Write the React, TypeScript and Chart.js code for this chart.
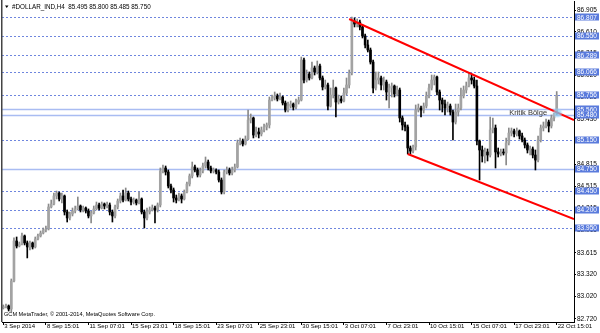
import React, { useEffect, useRef } from "react";
import { Chart, registerables } from "chart.js";
Chart.register(...registerables);

// ---- data (H4 candles, #DOLLAR_IND) ----
const opens = [
  82.867, 82.880, 82.894, 82.853, 83.233, 83.775, 83.707, 83.734, 83.843, 83.748,
  83.694, 83.748, 83.694, 83.802, 83.843, 83.883, 83.924, 83.938, 84.236, 84.276,
  84.385, 84.425, 84.344, 84.385, 84.168, 84.087, 84.141, 84.181, 84.209, 84.249,
  84.195, 84.222, 84.181, 84.114, 84.154, 84.209, 84.263, 84.222, 84.276, 84.249,
  84.263, 84.168, 84.114, 84.236, 84.317, 84.385, 84.330, 84.425, 84.344, 84.303,
  84.330, 84.290, 84.344, 84.168, 84.087, 84.168, 84.195, 84.222, 84.195, 84.263,
  84.724, 84.764, 84.710, 84.520, 84.466, 84.358, 84.330, 84.385, 84.344, 84.439,
  84.547, 84.656, 84.778, 84.737, 84.669, 84.724, 84.791, 84.845, 84.764, 84.724,
  84.737, 84.710, 84.601, 84.439, 84.710, 84.737, 84.696, 84.737, 84.778, 85.103,
  85.130, 85.089, 85.157, 85.414, 85.442, 85.211, 85.252, 85.225, 85.279, 85.320,
  85.347, 85.685, 85.713, 85.740, 85.699, 85.726, 85.645, 85.550, 85.604, 85.631,
  85.591, 85.658, 85.685, 86.227, 85.956, 86.038, 85.984, 86.119, 86.065, 86.146,
  85.984, 85.862, 85.889, 85.604, 85.753, 85.848, 85.658, 85.699, 85.672, 85.780,
  85.889, 86.051, 86.756, 86.715, 86.742, 86.675, 86.553, 86.431, 86.363, 86.200,
  85.848, 85.956, 85.984, 85.889, 85.929, 85.794, 85.848, 85.875, 85.767, 85.821,
  85.442, 85.347, 85.320, 85.035, 84.994, 85.049, 85.550, 85.577, 85.550, 85.604,
  85.740, 85.848, 85.956, 85.997, 85.794, 85.685, 85.631, 85.577, 85.604, 85.523,
  85.387, 85.523, 85.577, 85.740, 85.821, 85.875, 85.984, 85.956, 85.875, 85.130,
  85.008, 84.927, 84.981, 84.940, 85.279, 85.306, 84.981, 84.954, 84.981, 84.967,
  85.103, 85.238, 85.266, 85.225, 85.266, 85.198, 85.143, 85.076, 85.008, 85.022,
  84.940, 84.872, 85.143, 85.306, 85.333, 85.387, 85.333, 85.442, 85.495,
];
const highs = [
  82.908, 82.921, 82.908, 83.260, 83.816, 83.829, 83.761, 83.883, 83.856, 83.775,
  83.775, 83.761, 83.829, 83.870, 83.910, 83.951, 83.978, 84.276, 84.330, 84.425,
  84.452, 84.439, 84.425, 84.398, 84.195, 84.168, 84.222, 84.249, 84.371, 84.263,
  84.249, 84.236, 84.209, 84.181, 84.249, 84.303, 84.290, 84.303, 84.290, 84.303,
  84.290, 84.195, 84.263, 84.344, 84.425, 84.466, 84.493, 84.452, 84.371, 84.358,
  84.344, 84.439, 84.358, 84.195, 84.222, 84.236, 84.263, 84.249, 84.290, 84.764,
  84.805, 84.791, 84.737, 84.547, 84.493, 84.398, 84.425, 84.412, 84.466, 84.574,
  84.683, 84.845, 84.805, 84.764, 84.764, 84.832, 84.913, 84.872, 84.791, 84.764,
  84.751, 84.737, 84.629, 84.737, 84.778, 84.764, 84.778, 84.818, 85.143, 85.171,
  85.157, 85.198, 85.550, 85.496, 85.455, 85.320, 85.306, 85.320, 85.360, 85.374,
  85.726, 85.753, 85.794, 85.767, 85.780, 85.740, 85.672, 85.658, 85.672, 85.645,
  85.699, 85.726, 86.268, 86.255, 86.092, 86.065, 86.200, 86.146, 86.214, 86.173,
  86.011, 85.956, 85.916, 85.848, 85.956, 85.862, 85.753, 85.740, 85.848, 85.984,
  86.092, 86.810, 86.797, 86.783, 86.770, 86.702, 86.580, 86.498, 86.390, 86.227,
  86.065, 86.065, 86.011, 85.997, 85.956, 85.902, 85.916, 85.889, 85.875, 85.848,
  85.469, 85.387, 85.347, 85.062, 85.076, 85.618, 85.631, 85.604, 85.645, 85.794,
  85.902, 86.024, 86.024, 86.011, 85.821, 85.713, 85.685, 85.658, 85.631, 85.550,
  85.631, 85.631, 85.848, 85.875, 85.929, 86.051, 86.024, 85.997, 85.956, 85.143,
  85.062, 85.035, 85.022, 85.455, 85.442, 85.347, 85.035, 85.022, 85.022, 85.171,
  85.306, 85.306, 85.293, 85.306, 85.279, 85.238, 85.171, 85.103, 85.062, 85.049,
  85.008, 85.198, 85.347, 85.387, 85.428, 85.414, 85.482, 85.509, 85.800,
];
const lows = [
  82.853, 82.867, 82.826, 82.813, 83.219, 83.680, 83.694, 83.721, 83.721, 83.545,
  83.653, 83.666, 83.680, 83.788, 83.829, 83.870, 83.897, 83.924, 84.222, 84.263,
  84.344, 84.317, 84.290, 84.127, 84.032, 84.059, 84.114, 84.154, 84.195, 84.168,
  84.168, 84.154, 84.087, 84.019, 84.141, 84.195, 84.195, 84.209, 84.209, 84.222,
  84.127, 84.032, 84.087, 84.209, 84.290, 84.303, 84.317, 84.317, 84.263, 84.276,
  84.263, 84.276, 84.141, 83.951, 84.059, 84.141, 84.181, 84.019, 84.168, 84.236,
  84.696, 84.669, 84.493, 84.425, 84.303, 84.290, 84.317, 84.290, 84.330, 84.425,
  84.520, 84.629, 84.710, 84.642, 84.642, 84.696, 84.764, 84.737, 84.696, 84.696,
  84.683, 84.574, 84.412, 84.412, 84.683, 84.669, 84.669, 84.710, 84.764, 85.076,
  85.062, 85.076, 85.143, 85.374, 85.171, 85.184, 85.171, 85.198, 85.252, 85.279,
  85.306, 85.672, 85.685, 85.672, 85.685, 85.618, 85.523, 85.523, 85.577, 85.550,
  85.564, 85.631, 85.672, 85.916, 85.929, 85.956, 85.970, 86.024, 86.038, 85.956,
  85.821, 85.835, 85.550, 85.591, 85.713, 85.455, 85.631, 85.645, 85.658, 85.753,
  85.848, 86.024, 86.675, 86.675, 86.634, 86.526, 86.390, 86.336, 86.173, 85.780,
  85.821, 85.902, 85.821, 85.821, 85.685, 85.577, 85.726, 85.726, 85.740, 85.387,
  85.279, 85.266, 84.954, 84.954, 84.967, 85.008, 85.523, 85.455, 85.509, 85.577,
  85.713, 85.821, 85.889, 85.753, 85.550, 85.523, 85.482, 85.523, 85.482, 85.143,
  85.360, 85.469, 85.550, 85.713, 85.780, 85.862, 85.902, 85.848, 85.076, 84.601,
  84.845, 84.832, 84.859, 84.913, 85.238, 84.764, 84.913, 84.927, 84.940, 84.805,
  85.076, 85.198, 85.184, 85.198, 85.157, 85.116, 85.035, 84.967, 84.940, 84.900,
  84.737, 84.845, 85.116, 85.266, 85.306, 85.252, 85.306, 85.401, 85.485,
];
const closes = [
  82.880, 82.894, 82.853, 83.233, 83.775, 83.707, 83.734, 83.843, 83.748, 83.694,
  83.748, 83.694, 83.802, 83.843, 83.883, 83.924, 83.938, 84.236, 84.276, 84.385,
  84.425, 84.344, 84.385, 84.168, 84.087, 84.141, 84.181, 84.209, 84.249, 84.195,
  84.222, 84.181, 84.114, 84.154, 84.209, 84.263, 84.222, 84.276, 84.249, 84.263,
  84.168, 84.114, 84.236, 84.317, 84.385, 84.330, 84.425, 84.344, 84.303, 84.330,
  84.290, 84.344, 84.168, 84.087, 84.168, 84.195, 84.222, 84.195, 84.263, 84.724,
  84.764, 84.710, 84.520, 84.466, 84.358, 84.330, 84.385, 84.344, 84.439, 84.547,
  84.656, 84.778, 84.737, 84.669, 84.724, 84.791, 84.845, 84.764, 84.724, 84.737,
  84.710, 84.601, 84.439, 84.710, 84.737, 84.696, 84.737, 84.778, 85.103, 85.130,
  85.089, 85.157, 85.414, 85.442, 85.211, 85.252, 85.225, 85.279, 85.320, 85.347,
  85.685, 85.713, 85.740, 85.699, 85.726, 85.645, 85.550, 85.604, 85.631, 85.591,
  85.658, 85.685, 86.227, 85.956, 86.038, 85.984, 86.119, 86.065, 86.146, 85.984,
  85.862, 85.889, 85.604, 85.753, 85.848, 85.658, 85.699, 85.672, 85.780, 85.889,
  86.051, 86.756, 86.715, 86.742, 86.675, 86.553, 86.431, 86.363, 86.200, 85.848,
  85.956, 85.984, 85.889, 85.929, 85.794, 85.848, 85.875, 85.767, 85.821, 85.442,
  85.347, 85.320, 85.035, 84.994, 85.049, 85.550, 85.577, 85.550, 85.604, 85.740,
  85.848, 85.956, 85.997, 85.794, 85.685, 85.631, 85.577, 85.604, 85.523, 85.387,
  85.523, 85.577, 85.740, 85.821, 85.875, 85.984, 85.956, 85.875, 85.130, 85.008,
  84.927, 84.981, 84.940, 85.279, 85.306, 84.981, 84.954, 84.981, 84.967, 85.103,
  85.238, 85.266, 85.225, 85.266, 85.198, 85.143, 85.076, 85.008, 85.022, 84.940,
  84.872, 85.143, 85.306, 85.333, 85.387, 85.333, 85.442, 85.495, 85.750,
];

const tickBars = [0, 16, 32, 48, 64, 80, 96, 112, 128, 144, 160, 176, 192, 208];
const tickLabels = [
  "3 Sep 2014", "8 Sep 15:01", "11 Sep 07:01", "15 Sep 23:01", "18 Sep 15:01",
  "23 Sep 07:01", "25 Sep 23:01", "30 Sep 15:01", "3 Oct 07:01", "7 Oct 23:01",
  "10 Oct 15:01", "15 Oct 07:01", "17 Oct 23:01", "22 Oct 15:01",
];
const priceTicks = [
  86.905, 86.61, 86.315, 86.02, 85.725, 85.43, 85.135, 84.815, 84.515, 84.215,
  83.915, 83.615, 83.32, 83.02, 82.72,
];
const dottedLevels = [86.807, 86.55, 86.289, 86.066, 85.756, 85.15, 84.45, 84.2, 83.95];
const solidLevels = [85.56, 85.48, 84.75];
const upperTrend = [[130, 86.783], [214.5, 85.414]];
const lowerTrend = [[152, 84.954], [214.5, 84.073]];
const headerText = "#DOLLAR_IND,H4  85.495 85.800 85.485 85.750";
const footerText = "GCM MetaTrader, \u00a9 2001-2014, MetaQuotes Software Corp.";
const zoneLabel = "Kritik Bölge";
const zoneAnchor = [204.4, 85.51];
const glowAnchor = [208.3, 85.51];
const slotCount = 215;
const yMin = 82.677;
const yMax = 87.027;

const FONT = "'Liberation Sans', Arial, sans-serif";
const BULL = "#a3a3a3";
const BULL_WICK = "#8a8a8a";
const BEAR = "#000000";

const overlay = {
  id: "overlay",
  beforeDatasetsDraw(chart: any) {
    const { ctx, chartArea: a, scales } = chart;
    const ys = scales.y;
    ctx.save();
    ctx.beginPath();
    ctx.rect(a.left, a.top, a.right - a.left, a.bottom - a.top);
    ctx.clip();
    ctx.lineWidth = 1;
    ctx.strokeStyle = "#a9bcf2";
    ctx.lineWidth = 1.5;
    for (const v of solidLevels) {
      const y = Math.round(ys.getPixelForValue(v)) + 0.5;
      ctx.beginPath();
      ctx.moveTo(a.left, y);
      ctx.lineTo(a.right, y);
      ctx.stroke();
    }
    ctx.lineWidth = 1;
    ctx.strokeStyle = "#6f86de";
    ctx.setLineDash([2, 2]);
    for (const v of dottedLevels) {
      const y = Math.round(ys.getPixelForValue(v)) + 0.5;
      ctx.beginPath();
      ctx.moveTo(a.left, y);
      ctx.lineTo(a.right, y);
      ctx.stroke();
    }
    ctx.restore();
  },
  afterDatasetsDraw(chart: any) {
    const { ctx, chartArea: a, scales } = chart;
    const xs = scales.x;
    const ys = scales.y;
    ctx.save();
    ctx.beginPath();
    ctx.rect(a.left, a.top, a.right - a.left, a.bottom - a.top);
    ctx.clip();
    ctx.strokeStyle = "#ff0000";
    ctx.lineWidth = 2;
    for (const line of [upperTrend, lowerTrend]) {
      ctx.beginPath();
      ctx.moveTo(xs.getPixelForValue(line[0][0]), ys.getPixelForValue(line[0][1]));
      ctx.lineTo(xs.getPixelForValue(line[1][0]), ys.getPixelForValue(line[1][1]));
      ctx.stroke();
    }
    // glow
    const gx = xs.getPixelForValue(glowAnchor[0]);
    const gy = ys.getPixelForValue(glowAnchor[1]);
    const g = ctx.createRadialGradient(gx, gy, 0, gx, gy, 5.5);
    g.addColorStop(0, "rgba(110,190,235,0.85)");
    g.addColorStop(0.6, "rgba(150,210,245,0.6)");
    g.addColorStop(1, "rgba(180,225,250,0)");
    ctx.fillStyle = g;
    ctx.beginPath();
    ctx.arc(gx, gy, 5.5, 0, Math.PI * 2);
    ctx.fill();
    // zone label
    ctx.fillStyle = "#333333";
    ctx.font = `7.5px ${FONT}`;
    ctx.textAlign = "right";
    ctx.textBaseline = "middle";
    ctx.fillText(zoneLabel, xs.getPixelForValue(zoneAnchor[0]), ys.getPixelForValue(zoneAnchor[1]));
    ctx.restore();
  },
  afterDraw(chart: any) {
    const { ctx, chartArea: a, scales } = chart;
    const ys = scales.y;
    ctx.save();
    // left border
    ctx.strokeStyle = "#444444";
    ctx.lineWidth = 1.5;
    ctx.beginPath();
    ctx.moveTo(a.left - 0.25, 0);
    ctx.lineTo(a.left - 0.25, a.bottom);
    ctx.stroke();
    // level boxes on price axis
    ctx.font = `6.5px ${FONT}`;
    ctx.textAlign = "left";
    ctx.textBaseline = "middle";
    for (const v of [...dottedLevels, ...solidLevels]) {
      const y = ys.getPixelForValue(v);
      ctx.fillStyle = "#5a7bdc";
      ctx.fillRect(a.right + 1, Math.round(y) - 3.5, 24, 7);
      ctx.fillStyle = "#ffffff";
      ctx.fillText(v.toFixed(3), a.right + 3, y + 0.5);
    }
    // header
    ctx.fillStyle = "#000000";
    ctx.beginPath();
    ctx.moveTo(5, 5.5);
    ctx.lineTo(8.5, 5.5);
    ctx.lineTo(6.75, 8);
    ctx.closePath();
    ctx.fill();
    ctx.font = `6.3px ${FONT}`;
    ctx.fillText(headerText, 12, 6.8);
    // footer
    ctx.font = `5.6px ${FONT}`;
    ctx.fillText(footerText, 4, 314.5);
    ctx.restore();
  },
};

export default function App() {
  const ref = useRef<HTMLCanvasElement | null>(null);
  useEffect(() => {
    if (!ref.current) return;
    const labels = Array.from({ length: slotCount }, (_, i) => String(i));
    const bull = closes.map((c, i) => c >= opens[i]);
    const chart = new Chart(ref.current, {
      type: "bar",
      data: {
        labels,
        datasets: [
          {
            data: lows.map((l, i) => [l, highs[i]]) as any,
            backgroundColor: bull.map((b) => (b ? BULL_WICK : BEAR)),
            barThickness: 1,
            grouped: false,
            order: 1,
            borderWidth: 0,
          } as any,
          {
            data: opens.map((o, i) => [o, closes[i]]) as any,
            backgroundColor: bull.map((b) => (b ? BULL : BEAR)),
            barThickness: 2,
            minBarLength: 1,
            grouped: false,
            order: 0,
            borderWidth: 0,
          } as any,
        ],
      },
      options: {
        animation: false,
        responsive: false,
        devicePixelRatio: 1,
        layout: { padding: { left: 2, top: 1, right: 0, bottom: 0 } },
        plugins: { legend: { display: false }, tooltip: { enabled: false } },
        scales: {
          x: {
            type: "category",
            offset: true,
            grid: {
              display: true,
              drawOnChartArea: false,
              drawTicks: true,
              tickLength: 3,
              color: "#000",
              offset: false,
            },
            border: { display: true, color: "#000", width: 1 },
            ticks: {
              autoSkip: false,
              maxRotation: 0,
              minRotation: 0,
              align: "start",
              padding: -2,
              labelOffset: 1,
              color: "#000",
              font: { family: FONT, size: 6 },
              callback: (_v: any, i: number) => {
                const k = tickBars.indexOf(i);
                return k >= 0 ? tickLabels[k] : null;
              },
            },
            afterFit: (s: any) => {
              s.height = 11;
              s.paddingLeft = 0;
              s.paddingRight = 0;
            },
          } as any,
          y: {
            type: "linear",
            position: "right",
            min: yMin,
            max: yMax,
            afterBuildTicks: (s: any) => {
              s.ticks = priceTicks.map((v) => ({ value: v }));
            },
            grid: {
              display: true,
              drawOnChartArea: false,
              drawTicks: true,
              tickLength: 2,
              color: "#000",
            },
            border: { display: true, color: "#000", width: 1 },
            ticks: {
              autoSkip: false,
              padding: 1,
              color: "#000",
              font: { family: FONT, size: 6.5 },
              callback: (v: any) => Number(v).toFixed(3),
            },
            afterFit: (s: any) => {
              s.width = 26;
              s.paddingTop = 0;
              s.paddingBottom = 0;
            },
          } as any,
        },
      },
      plugins: [overlay],
    });
    return () => chart.destroy();
  }, []);
  return (
    <div style={{ position: "fixed", left: 0, top: 0, width: 600, height: 333, background: "#fff" }}>
      <canvas ref={ref} width={600} height={333} style={{ display: "block", width: 600, height: 333 }} />
    </div>
  );
}
